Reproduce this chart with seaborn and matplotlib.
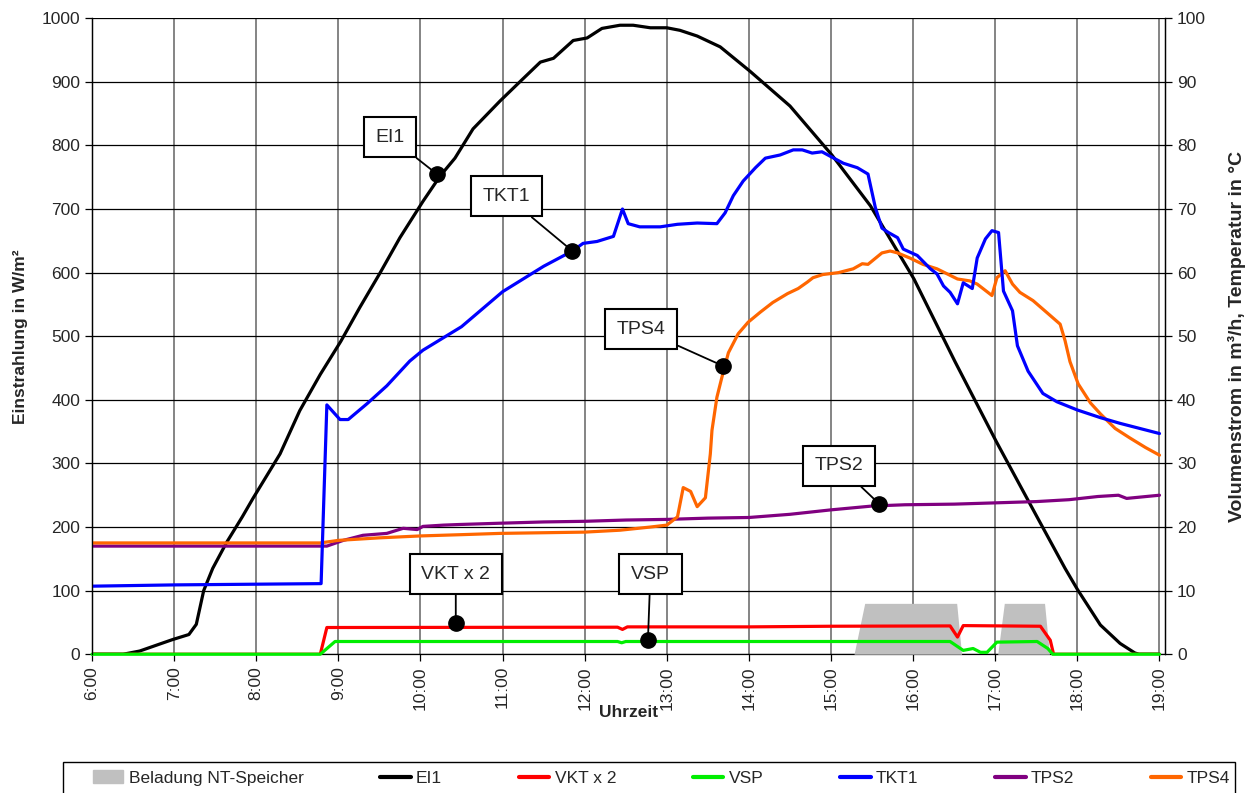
import numpy as np
import pandas as pd
import seaborn as sns
import matplotlib.pyplot as plt
from matplotlib.patches import Patch, Rectangle
from matplotlib.lines import Line2D

# time in decimal hours, EI1 in W/m2, all other series on the right axis
t_ei1 = [6.0, 6.38, 6.58, 6.98, 7.18, 7.27, 7.36, 7.47, 7.64, 7.83, 7.96, 8.29, 8.53, 8.78,
         9.03, 9.26, 9.51, 9.75, 10.03, 10.24, 10.42, 10.64, 10.97, 11.21, 11.46, 11.62,
         11.86, 12.03, 12.21, 12.43, 12.59, 12.8, 13.0, 13.16, 13.37, 13.65, 14.01, 14.5,
         15.01, 15.48, 16.01, 16.51, 17.01, 17.5, 17.85, 18.0, 18.28, 18.52, 18.7, 18.75, 19.0]
ei1 = [0, 0, 5, 23, 31, 47, 100, 135, 176, 216, 245, 315, 383, 440,
       492, 545, 600, 655, 712, 752, 780, 826, 870, 900, 931, 937,
       965, 969, 984, 989, 989, 985, 985, 981, 972, 955, 917, 862,
       785, 705, 590, 460, 335, 218, 135, 102, 46, 17, 2, 0, 0]

t_tkt1 = [6.0, 7.0, 8.79, 8.86, 9.02, 9.12, 9.35, 9.59, 9.87, 10.03, 10.5, 11.0, 11.5, 11.85,
          11.98, 12.15, 12.35, 12.46, 12.53, 12.67, 12.92, 13.13, 13.37, 13.61, 13.71, 13.81,
          13.93, 14.08, 14.2, 14.38, 14.54, 14.65, 14.77, 14.89, 14.99, 15.15, 15.32, 15.45,
          15.54, 15.62, 15.7, 15.81, 15.88, 16.05, 16.21, 16.29, 16.37, 16.45, 16.54, 16.61,
          16.72, 16.78, 16.88, 16.96, 17.04, 17.1, 17.21, 17.27, 17.4, 17.58, 17.75, 18.0,
          18.28, 18.52, 18.76, 19.0]
tkt1 = [10.7, 10.9, 11.1, 39.2, 36.9, 36.9, 39.4, 42.2, 46.1, 47.8, 51.5, 57.0, 61.0, 63.4,
        64.6, 64.9, 65.7, 70.0, 67.7, 67.2, 67.2, 67.6, 67.8, 67.7, 69.4, 72.1,
        74.4, 76.5, 78.0, 78.5, 79.3, 79.3, 78.8, 79.0, 78.3, 77.2, 76.5, 75.5,
        70.2, 67.0, 66.3, 65.5, 63.7, 62.7, 60.6, 59.8, 57.9, 56.9, 55.1, 58.4,
        57.5, 62.3, 65.3, 66.6, 66.3, 57.1, 54.0, 48.5, 44.5, 41.0, 39.7, 38.4,
        37.2, 36.3, 35.5, 34.7]

t_tps4 = [6.0, 8.78, 9.0, 9.5, 10.0, 10.5, 10.97, 12.0, 12.43, 12.8, 13.0, 13.13, 13.2, 13.29,
          13.37, 13.47, 13.53, 13.55, 13.61, 13.67, 13.75, 13.87, 13.99, 14.14, 14.29, 14.47,
          14.6, 14.71, 14.78, 14.9, 15.09, 15.27, 15.38, 15.45, 15.62, 15.72, 15.81, 15.96,
          16.12, 16.29, 16.54, 16.69, 16.78, 16.96, 17.02, 17.12, 17.21, 17.3, 17.46, 17.63,
          17.79, 17.85, 17.91, 18.01, 18.16, 18.28, 18.46, 18.64, 18.83, 19.0]
tps4 = [17.5, 17.5, 17.9, 18.3, 18.6, 18.8, 19.0, 19.2, 19.5, 20.0, 20.3, 21.6, 26.2, 25.6,
        23.2, 24.6, 31.5, 35.2, 40.4, 43.5, 47.4, 50.4, 52.2, 53.8, 55.3, 56.7,
        57.5, 58.5, 59.2, 59.7, 60.0, 60.6, 61.4, 61.3, 63.1, 63.4, 63.1, 62.3,
        61.3, 60.6, 59.0, 58.7, 58.2, 56.4, 59.2, 60.3, 58.2, 56.9, 55.6, 53.7,
        51.9, 49.3, 46.0, 42.5, 39.5, 37.8, 35.5, 34.0, 32.5, 31.3]

t_tps2 = [6.0, 8.86, 9.06, 9.3, 9.59, 9.79, 9.96, 10.03, 10.28, 10.48, 10.97, 11.5, 12.0, 12.5,
          13.0, 13.5, 14.0, 14.5, 15.0, 15.5, 15.9, 16.5, 17.0, 17.5, 17.9, 18.25, 18.5, 18.6, 19.0]
tps2 = [17.0, 17.0, 17.9, 18.7, 19.0, 19.8, 19.6, 20.1, 20.3, 20.4, 20.6, 20.8, 20.9, 21.1,
        21.2, 21.4, 21.5, 22.0, 22.7, 23.3, 23.5, 23.6, 23.8, 24.0, 24.3, 24.8, 25.0, 24.5, 25.0]

t_vkt = [6.0, 8.78, 8.86, 12.4, 12.46, 12.52, 14.0, 15.0, 16.45, 16.54, 16.61, 17.55, 17.67, 17.71, 19.0]
vkt = [0, 0, 4.2, 4.25, 3.9, 4.3, 4.3, 4.4, 4.45, 2.7, 4.5, 4.4, 2.2, 0, 0]

t_vsp = [6.0, 8.78, 8.96, 12.4, 12.45, 12.5, 16.45, 16.61, 16.73, 16.82, 16.9, 17.02, 17.51, 17.64, 17.7, 19.0]
vsp = [0, 0, 2.0, 2.0, 1.8, 2.0, 2.0, 0.6, 0.9, 0.3, 0.3, 1.9, 2.0, 0.9, 0, 0]

t_nt = [6.0, 15.28, 15.41, 16.53, 16.59, 17.03, 17.11, 17.6, 17.66, 19.0]
nt = [0, 0, 8, 8, 0, 0, 8, 8, 0, 0]

hour_ticks = list(range(6, 20))
hour_labels = [f'{h}:00' for h in hour_ticks]

sns.set_style('white')
plt.rcParams['font.family'] = ['Liberation Sans', 'DejaVu Sans']

fig, ax = plt.subplots(figsize=(12.57, 7.93), dpi=100)
fig.subplots_adjust(left=0.0732, right=0.927, top=0.977, bottom=0.175)
ax2 = ax.twinx()

lw = 2.3
sns.lineplot(x=t_ei1, y=ei1, ax=ax, color='black', lw=lw, sort=False)
ax2.fill_between(t_nt, nt, color='#c0c0c0', lw=0, zorder=1)
sns.lineplot(x=t_tps2, y=tps2, ax=ax2, color='#800080', lw=lw, sort=False)
sns.lineplot(x=t_tps4, y=tps4, ax=ax2, color='#ff6600', lw=lw, sort=False)
sns.lineplot(x=t_tkt1, y=tkt1, ax=ax2, color='#0000ff', lw=lw, sort=False)
sns.lineplot(x=t_vkt, y=vkt, ax=ax2, color='#ff0000', lw=lw, sort=False)
sns.lineplot(x=t_vsp, y=vsp, ax=ax2, color='#00ee00', lw=lw, sort=False, clip_on=False)

ax.set_xlim(6, 19.07)
ax.set_ylim(0, 1000)
ax2.set_ylim(0, 100)
ax.set_yticks(range(0, 1001, 100))
ax2.set_yticks(range(0, 101, 10))
ax.set_xticks(hour_ticks)
ax.set_xticklabels(hour_labels, rotation=90)

ax.grid(True, axis='y', color='black', lw=0.9)
ax.grid(True, axis='x', color='#707070', lw=1.2)
ax.set_axisbelow(True)

for a in (ax, ax2):
    a.tick_params(direction='out', length=5, width=0.9, labelsize=12.5, color='black')
    for s in a.spines.values():
        s.set_color('black')
        s.set_linewidth(0.9)
    a.spines['top'].set_visible(False)
ax2.spines['bottom'].set_visible(False)
ax.tick_params(axis='both', left=True, bottom=True)
ax2.tick_params(axis='y', right=True)

ax.set_xlabel('Uhrzeit', fontsize=12.5, fontweight='bold', labelpad=-3)
ax.set_ylabel('Einstrahlung in W/m²', fontsize=12.5, fontweight='bold', labelpad=10)
ax2.set_ylabel('Volumenstrom in m³/h, Temperatur in °C', fontsize=14, fontweight='bold', labelpad=16)

# labelled markers (positions in left-axis units)
notes = [('EI1', 10.20, 755, 9.63, 813),
         ('TKT1', 11.85, 634, 11.05, 720),
         ('TPS4', 13.69, 453, 12.69, 511),
         ('TPS2', 15.59, 236, 15.10, 296),
         ('VKT x 2', 10.43, 49, 10.43, 126),
         ('VSP', 12.77, 22, 12.80, 126)]
for txt, x, y, tx, ty in notes:
    ax2.annotate(txt, xy=(x, y / 10), xytext=(tx, ty / 10), fontsize=14,
                 ha='center', va='center', zorder=10,
                 bbox=dict(boxstyle='square,pad=0.6', fc='white', ec='black', lw=1.5),
                 arrowprops=dict(arrowstyle='-', color='black', lw=1.3, shrinkA=0, shrinkB=0))
    ax2.plot(x, y / 10, 'o', color='black', ms=11, zorder=11)

handles = [Patch(color='#c0c0c0'),
           Line2D([], [], color='black', lw=3),
           Line2D([], [], color='#ff0000', lw=3),
           Line2D([], [], color='#00ee00', lw=3),
           Line2D([], [], color='#0000ff', lw=3),
           Line2D([], [], color='#800080', lw=3),
           Line2D([], [], color='#ff6600', lw=3)]
names = ['Beladung NT-Speicher', 'EI1', 'VKT x 2', 'VSP', 'TKT1', 'TPS2', 'TPS4']
fig.legend(handles, names, loc='center left', ncol=7, mode='expand',
           bbox_to_anchor=(93 / 1257, 15 / 793, (1230 - 93) / 1257, 0.0),
           fontsize=12.5, frameon=False, handlelength=1.75,
           handletextpad=0.3, borderaxespad=0.0, borderpad=0.0)
fig.add_artist(Rectangle((63 / 1257, -0.01), (1235 - 63) / 1257, 31 / 793 + 0.01,
                         transform=fig.transFigure, fill=False, ec='black', lw=1.0))

fig.savefig('out.png', dpi=100)
